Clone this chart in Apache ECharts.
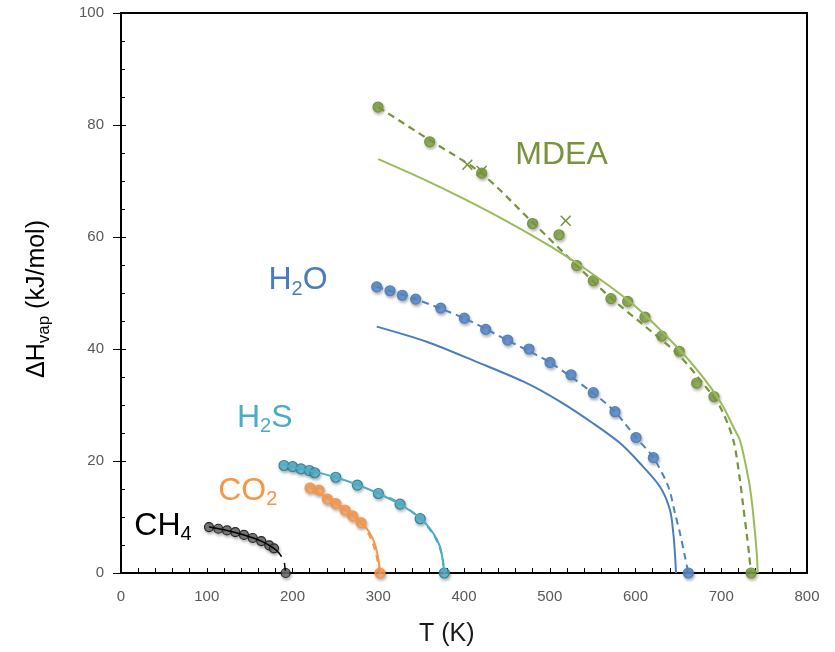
<!DOCTYPE html>
<html>
<head>
<meta charset="utf-8">
<script src="https://cdn.jsdelivr.net/npm/echarts@6/dist/echarts.min.js"></script>
<style>html,body{margin:0;padding:0;background:#fff}#c{width:835px;height:652px}</style>
</head>
<body>
<div id="c"></div>
<script>
// ---- data (T in K, ΔHvap in kJ/mol) ----
var xTicks = [0, 100, 200, 300, 400, 500, 600, 700, 800];
var yTicks = [0, 20, 40, 60, 80, 100];

var mdeaExp = [[299.7,83.2],[360,77.0],[420.6,71.4],[480,62.4],[510.8,60.4],[531.4,54.9],[550.8,52.2],[571.4,49.0],[590.9,48.5],[611,45.7],[630.5,42.3],[651,39.6],[671.3,33.9],[691.5,31.5],[734.7,0]];
var mdeaCross = [[403.9,72.9],[420.5,71.8],[518.6,62.9]];
var mdeaDashed = [[300,83.2],[360,77.3],[420,71.4],[480,62.6],[531,55],[570,49.3],[610,44.2],[650,39.0],[680,33.6],[698.6,29.7],[714,23.75],[721.8,16.6],[725.7,11.8],[729.6,7.1],[732.5,3.3],[734.7,0]];
var mdeaSolid = [[300,73.9],[350,70.5],[400,66.8],[450,62.8],[500,58.4],[550,53.4],[600,47.6],[650,40.1],[680,34.7],[700,30.3],[715,25.8],[722,23.6],[732,16.6],[736,12.3],[739.4,7.1],[741.5,3.3],[742.5,0]];

var h2oExp = [[298.2,51.1],[313.7,50.4],[328,49.6],[343.6,48.9],[372.8,47.3],[400.4,45.5],[425.3,43.5],[450.9,41.6],[475.8,40.0],[500.3,37.6],[524.8,35.4],[550.8,32.2],[576.1,28.8],[600.6,24.2],[620.8,20.6],[661.6,0]];
var h2oDashed = [[298,51.1],[343.6,48.9],[400,45.5],[450,41.6],[500,37.6],[550,32.2],[576,28.8],[600.6,24.2],[620.8,20.6],[638.3,15.4],[646,10.7],[651.9,7.1],[657.7,2.9],[661.6,0]];
var h2oSolid = [[298.2,44.0],[356.5,41.3],[414.8,37.7],[473.1,33.9],[512,30.6],[550.8,26.7],[581.9,23.2],[605.2,19.6],[628.6,15.4],[640.2,11.25],[644.1,7.1],[646.2,3.0],[647.2,0]];

var h2sExp = [[190.1,19.2],[200.2,19.0],[209.9,18.6],[219.6,18.3],[225.9,17.9],[250.4,17.1],[275.6,15.7],[300.1,14.2],[325.4,12.3],[348.9,9.7],[377,0]];
var h2sSolid = [[190,19.3],[225,18.1],[250,17.1],[275,15.8],[300,14.2],[325,12.3],[349.9,9.7],[364.2,7.1],[372,4.7],[375.5,2],[377,0]];
var h2sDashed = [[300,14.3],[325,12.5],[350,9.5],[365,6.7],[372.8,4.0],[376,1.5],[377,0]];

var co2Exp = [[220.4,15.2],[230.9,14.8],[240.6,13.2],[250.4,12.4],[261.2,11.25],[270.2,10.2],[279.9,9.0],[302,0]];
var co2Solid = [[220,15.3],[240,13.4],[260,11.4],[279.9,9.0],[290,7.2],[296,5.2],[299.5,3],[301.5,1],[302,0]];
var co2Dashed = [[279.9,9.0],[289,6.9],[294.3,5.0],[298,3],[300.5,1.2],[302,0]];

var ch4Exp = [[102.6,8.2],[113.5,7.9],[123.6,7.6],[133.3,7.3],[143.4,6.8],[153.6,6.25],[163.6,5.7],[172.9,4.95],[178.4,4.4],[192,0]];
var ch4Line = [[102.6,8.2],[123.6,7.6],[143.4,6.8],[163.6,5.7],[178.4,4.4],[184,3.6],[187.3,2.9],null,[190.6,1.8],[191.6,0.4]];

var labelNames = ['{a|MDEA}', '{a|H}{s|2}{a|O}', '{a|H}{s|2}{a|S}', '{a|CO}{s|2}', '{a|CH}{s|4}'];
var labelPos = [[513.8,74.6],[206.4,52.3],[167.6,27.7],[147.9,14.7],[49,8.4]];
var labelColors = ['#77933C', '#4A7EBB', '#4BACC6', '#F79646', '#000000'];

// ---- chart ----
var chart = echarts.init(document.getElementById('c'), null, {renderer: 'canvas'});
var FONT = '"Liberation Sans", Arial, sans-serif';

function lineS(data, color, dashed, width) {
  return {
    type: 'line', data: data, showSymbol: false, symbol: 'none',
    smooth: 0.3, connectNulls: false, z: 4,
    lineStyle: {color: color, width: width || 2, type: dashed ? [7, 5] : 'solid'},
    silent: true
  };
}
function dots(data, fill, border, size) {
  return {
    type: 'scatter', data: data, symbol: 'circle', symbolSize: size || 10, z: 3,
    itemStyle: {color: fill, borderColor: border, borderWidth: 1.2, opacity: 1,
      shadowBlur: 3, shadowColor: 'rgba(0,0,0,0.3)', shadowOffsetX: 1, shadowOffsetY: 2},
    silent: true
  };
}

var labelData = labelPos.map(function (p, i) {
  return {
    value: p,
    label: {
      show: true, position: 'inside', formatter: labelNames[i],
      rich: {
        a: {fontFamily: FONT, fontSize: 32, lineHeight: 38, color: labelColors[i]},
        s: {fontFamily: FONT, fontSize: 20, lineHeight: 20, padding: [18, 0, 0, 0], color: labelColors[i]}
      }
    }
  };
});

var option = {
  animation: false,
  backgroundColor: '#ffffff',
  grid: {left: 121, right: 28, top: 13, bottom: 79, show: true, borderColor: '#000', borderWidth: 2, backgroundColor: 'transparent'},
  xAxis: [{
    type: 'value', min: xTicks[0], max: xTicks[xTicks.length - 1], interval: 100,
    axisLine: {lineStyle: {color: '#000', width: 2}},
    axisTick: {show: true, inside: true, length: 5, lineStyle: {color: '#000', width: 1}},
    minorTick: {show: true, splitNumber: 5, length: 5, lineStyle: {color: '#000', width: 1}},
    axisLabel: {color: '#595959', fontSize: 15, fontFamily: FONT, margin: 16},
    splitLine: {show: false}
  }],
  yAxis: [{
    type: 'value', min: yTicks[0], max: yTicks[yTicks.length - 1], interval: 20,
    axisLine: {lineStyle: {color: '#000', width: 2}},
    axisTick: {show: true, inside: false, length: 8, lineStyle: {color: '#000', width: 1}},
    axisLabel: {color: '#595959', fontSize: 15, fontFamily: FONT, margin: 17},
    splitLine: {show: false}
  }, {
    type: 'value', min: yTicks[0], max: yTicks[yTicks.length - 1], interval: 20, position: 'left',
    axisLine: {show: false},
    axisTick: {show: true, inside: true, length: 5, lineStyle: {color: '#000', width: 1}},
    minorTick: {show: true, splitNumber: 4, length: 4, lineStyle: {color: '#000', width: 1}},
    axisLabel: {show: false},
    splitLine: {show: false}
  }],
  graphic: [
    {type: 'text', x: 37.5, y: 299, rotation: Math.PI / 2, z: 10,
      style: {text: '{a|ΔH}{s|vap}{a| (kJ/mol)}', align: 'center', verticalAlign: 'middle',
        rich: {
          a: {fontFamily: FONT, fontSize: 25, lineHeight: 30, color: '#1a1a1a'},
          s: {fontFamily: FONT, fontSize: 17, lineHeight: 17, padding: [13, 0, 0, 0], color: '#1a1a1a'}
        }}},
    {type: 'text', x: 446.7, y: 634, z: 10,
      style: {text: 'T (K)', align: 'center', verticalAlign: 'middle', fontFamily: FONT, fontSize: 25, fill: '#1a1a1a'}}
  ],
  series: [
    dots(mdeaExp, 'rgba(132,168,76,0.85)', '#77933C', 10),
    {type: 'scatter', data: mdeaCross, z: 3, symbolSize: 11,
      symbol: 'path://M0,1 L1,0 L5,4 L9,0 L10,1 L6,5 L10,9 L9,10 L5,6 L1,10 L0,9 L4,5 Z',
      itemStyle: {color: '#77933C', opacity: 1}, silent: true},
    lineS(mdeaDashed, '#77933C', true, 2.2),
    lineS(mdeaSolid, '#9BBB59', false, 2),

    dots(h2oExp, 'rgba(98,143,206,0.9)', '#4F81BD', 10),
    lineS(h2oDashed, '#4F81BD', true, 2),
    lineS(h2oSolid, '#4A7EBB', false, 2),

    dots(h2sExp, 'rgba(90,180,204,0.85)', '#31859C', 10),
    lineS(h2sSolid, '#4BACC6', false, 2),
    lineS(h2sDashed, '#4BACC6', true, 2),

    dots(co2Exp, 'rgba(248,167,100,0.85)', '#F79646', 10),
    lineS(co2Solid, '#F79646', false, 2),
    lineS(co2Dashed, '#F79646', true, 2),

    dots(ch4Exp, 'rgba(110,110,110,0.85)', '#262626', 9),
    lineS(ch4Line, '#000000', false, 1.5),

    {type: 'scatter', data: labelData, symbolSize: 1, itemStyle: {color: 'rgba(0,0,0,0)', opacity: 1}, z: 6, silent: true}
  ]
};
chart.setOption(option);
</script>
</body>
</html>
